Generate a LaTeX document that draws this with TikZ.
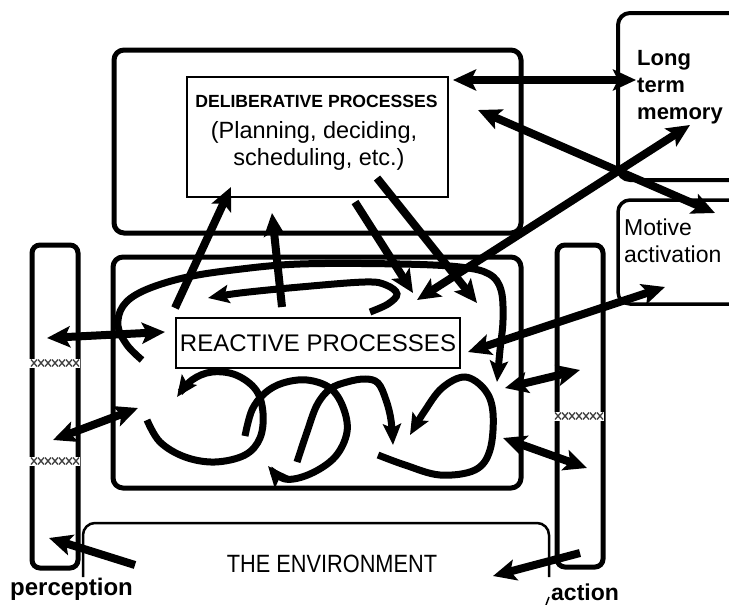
\documentclass[tikz,border=0pt]{standalone}
\usepackage{fontspec}
\setmainfont{Liberation Sans}
\newfontfamily\envfont[FakeStretch=0.87]{Liberation Sans}
\usetikzlibrary{arrows.meta}
\begin{document}
\begin{tikzpicture}[x=1pt,y=-1pt,
  outerbox/.style={draw, line width=5pt, rounded corners=10pt, inner sep=0pt},
  textbox/.style={draw, line width=2.5pt, fill=white, inner sep=0pt},
  colbox/.style={draw, line width=5pt, rounded corners=8pt, inner sep=0pt},
  sidebox/.style={draw, line width=4pt, rounded corners=12pt, inner sep=0pt},
  lbl/.style={inner sep=0pt, anchor=base},
  lblw/.style={inner sep=0pt, anchor=base west},
  arr/.style={line width=8pt, -{Stealth[length=23pt,width=21pt,inset=5pt]}},
  darr/.style={line width=8pt, {Stealth[length=23pt,width=21pt,inset=5pt]}-{Stealth[length=23pt,width=21pt,inset=5pt]}},
  sq/.style={line width=7pt, -{Stealth[length=21pt,width=18pt,inset=4pt]}},
  hatchband/.style={fill=white, draw=none},
  hatchline/.style={draw=black!75, line width=1.3pt}
]
\useasboundingbox (0,0) rectangle (729,605);
\clip (0,0) rectangle (729,605);

% boxes
\node[outerbox, minimum width=407pt, minimum height=183pt] (delouter) at (317.5,141.5) {};
\node[outerbox, minimum width=408pt, minimum height=231pt] (reactouter) at (317,372.5) {};
\node[colbox, minimum width=46pt, minimum height=323pt] (percol) at (55,406.5) {};
\node[colbox, minimum width=46pt, minimum height=322pt] (actcol) at (580,406) {};
\node[sidebox, minimum width=170pt, minimum height=167pt] (ltm) at (703,96.5) {};
\node[sidebox, line width=3.5pt, minimum width=170pt, minimum height=104pt] (motive) at (703,252) {};

% environment
\coordinate (envBL) at (83,577);
\coordinate (envTL) at (83,523);
\coordinate (envTR) at (549,523);
\coordinate (envBR) at (549,577);
\coordinate (tickA) at (549,597);
\coordinate (tickB) at (546,605);
\draw[line width=2.5pt, rounded corners=12pt] (envBL) -- (envTL) -- (envTR) -- (envBR);
\draw[line width=1.5pt] (tickA) -- (tickB);
\node[lbl, font=\envfont\fontsize{25}{28}\selectfont] (envtext) at (332,572) {THE ENVIRONMENT};

% hatch bands
\foreach \yy/\xa in {363/29, 461/29, 416/553}{
  \fill[hatchband] (\xa,\yy-4.5) rectangle (\xa+51,\yy+4.5);
  \foreach \i in {0,...,6}{
    \draw[hatchline] (\xa+2+7*\i,\yy-3.5) -- ++(6,7);
    \draw[hatchline] (\xa+2+7*\i,\yy+3.5) -- ++(6,-7);
  }
}

% deliberative
\node[textbox, minimum width=261pt, minimum height=120pt] (delib) at (317.5,137) {};
\node[lbl, font=\bfseries\fontsize{17.6}{20}\selectfont] (deltitle) at (316.5,107) {DELIBERATIVE PROCESSES};
\node[lbl, font=\fontsize{23.5}{27}\selectfont] (delsub1) at (314,138) {(Planning, deciding,};
\node[lbl, font=\fontsize{23.5}{27}\selectfont] (delsub2) at (319,165) {scheduling, etc.)};

% reactive
\node[textbox, minimum width=284pt, minimum height=50pt, font=\fontsize{24}{28}\selectfont] (react) at (318,343) {REACTIVE PROCESSES};

% side texts
\node[lblw, font=\bfseries\fontsize{22}{26}\selectfont] (ltm1) at (637,65) {Long};
\node[lblw, font=\bfseries\fontsize{22}{26}\selectfont] (ltm2) at (637,92) {term};
\node[lblw, font=\bfseries\fontsize{22}{26}\selectfont] (ltm3) at (637,119) {memory};
\node[lblw, font=\fontsize{23}{27}\selectfont] (mot1) at (624,235) {Motive};
\node[lblw, font=\fontsize{23}{27}\selectfont] (mot2) at (624,262) {activation};
\node[lblw, font=\bfseries\fontsize{24}{28}\selectfont] (perc) at (10,595) {perception};
\node[lblw, font=\bfseries\fontsize{23}{28}\selectfont] (act) at (551,600) {action};

% squiggles
\draw[sq] plot[smooth, tension=0.6] coordinates {(142,360) (127,345) (118,326) (123,306) (143,291) (183,278) (233,270) (300,264) (400,264) (460,267) (489,274) (501,290) (503,320) (500,350) (497,382)};
\draw[sq] plot[smooth, tension=0.6] coordinates {(370,312) (388,304) (397,294) (386,285) (365,282) (300,287) (240,293) (208,298)};
\draw[sq] plot[smooth, tension=0.6] coordinates {(147,420) (160,442) (185,457) (215,462) (245,455) (260,438) (263,413) (256,390) (236,375) (212,372) (192,380) (177,397)};
\draw[sq] plot[smooth, tension=0.6] coordinates {(245,436) (252,410) (265,393) (283,383) (307,380) (330,388) (343,407) (347,432) (335,457) (310,474) (285,479) (268,466)};
\draw[sq] plot[smooth, tension=0.6] coordinates {(297,462) (307,432) (317,405) (330,389) (347,382) (365,379) (378,383) (386,400) (391,420) (393,445)};
\draw[sq] plot[smooth, tension=0.6] coordinates {(378,455) (405,465) (440,475) (475,470) (490,450) (493,413) (485,390) (465,377) (442,388) (424,412) (410,435)};

% arrow end points
\coordinate (a1) at (453,80);   \coordinate (a2) at (636,80);
\coordinate (b1) at (478,110);  \coordinate (b2) at (715,213);
\coordinate (c1) at (417,300);  \coordinate (c2) at (690,125);
\coordinate (d1) at (377,178);  \coordinate (d2) at (477,303);
\coordinate (e1) at (355,202);  \coordinate (e2) at (413,293);
\coordinate (f1) at (175,308);  \coordinate (f2) at (231,187);
\coordinate (g1) at (282,307);  \coordinate (g2) at (272,213);
\coordinate (h1) at (468,352);  \coordinate (h2) at (665,287);
\coordinate (i1) at (505,388);  \coordinate (i2) at (580,370);
\coordinate (j1) at (503,438);  \coordinate (j2) at (587,468);
\coordinate (k1) at (580,553);  \coordinate (k2) at (493,576);
\coordinate (l1) at (135,565);  \coordinate (l2) at (49,538);
\coordinate (m1) at (47,338);   \coordinate (m2) at (165,332);
\coordinate (n1) at (53,440);   \coordinate (n2) at (138,408);

\draw[darr] (a1) -- (a2);
\draw[darr] (b1) -- (b2);
\draw[darr] (c1) -- (c2);
\draw[arr] (d1) -- (d2);
\draw[arr] (e1) -- (e2);
\draw[arr] (f1) -- (f2);
\draw[arr] (g1) -- (g2);
\draw[darr] (h1) -- (h2);
\draw[darr] (i1) -- (i2);
\draw[darr] (j1) -- (j2);
\draw[arr] (k1) -- (k2);
\draw[arr] (l1) -- (l2);
\draw[darr] (m1) -- (m2);
\draw[darr] (n1) -- (n2);
\end{tikzpicture}
\end{document}
